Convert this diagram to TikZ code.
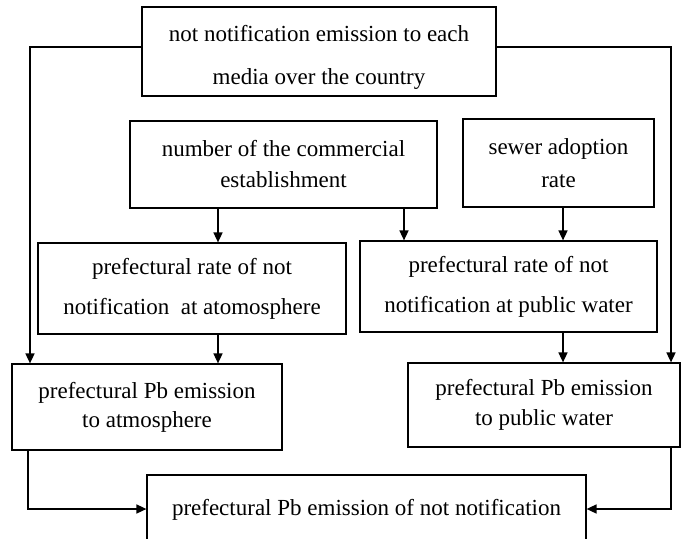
\documentclass[tikz,border=0pt]{standalone}
\usepackage{fontspec}
\setmainfont{Liberation Serif}
\usetikzlibrary{arrows.meta}
\tikzset{
  box/.style={draw, line width=1.2pt, rectangle, inner sep=0pt, align=center},
  txt/.style={inner sep=0pt, align=center},
  conn/.style={line width=1.6pt, -{Triangle[length=10pt,width=9pt]}},
}
\begin{document}
\begin{tikzpicture}[x=1pt,y=1pt]
\clip (0,0) rectangle (685,-538);
\fill[white] (0,0) rectangle (685,-538);
% boxes
\node[box, minimum width=354pt, minimum height=89pt] (top) at (319,-51.5) {};
\node[txt, font=\fontsize{23}{43}\selectfont] (toptxt) at (319,-57) {not notification emission to each\\media over the country};
\node[box, minimum width=307pt, minimum height=87pt, font=\fontsize{23}{31}\selectfont] (num) at (283.5,-164.5) {number of the commercial\\establishment};
\node[box, minimum width=191pt, minimum height=88pt, font=\fontsize{23}{33}\selectfont] (sew) at (558.5,-163) {sewer adoption\\rate};
\node[box, minimum width=308pt, minimum height=91pt, font=\fontsize{23}{40}\selectfont] (arate) at (192,-288.5) {prefectural rate of not\\notification~ at atomosphere};
\node[box, minimum width=297pt, minimum height=91pt, font=\fontsize{23}{40}\selectfont] (wrate) at (508.5,-286.5) {prefectural rate of not\\notification at public water};
\node[box, minimum width=270pt, minimum height=86pt, font=\fontsize{23}{29}\selectfont] (apb) at (147,-407) {prefectural Pb emission\\to atmosphere};
\node[box, minimum width=272pt, minimum height=84pt, font=\fontsize{23}{30}\selectfont] (wpb) at (544,-405) {prefectural Pb emission\\to public water};
\node[box, minimum width=439pt, minimum height=70pt, font=\fontsize{23}{30}\selectfont] (tot) at (366.5,-510) {prefectural Pb emission of not notification};
% corner coordinates
\coordinate (tl) at (30,-47);
\coordinate (tr) at (671,-47);
\coordinate (bl) at (28,-509);
\coordinate (br) at (671,-509);
\coordinate (n1) at (218,0);
\coordinate (n2) at (404,0);
\coordinate (s1) at (563,0);
% connectors
\draw[conn] (top.west |- tl) -- (tl) -- (tl |- apb.north);
\draw[conn] (top.east |- tr) -- (tr) -- (tr |- wpb.north);
\draw[conn] (n1 |- num.south) -- (n1 |- arate.north);
\draw[conn] (n2 |- num.south) -- (n2 |- wrate.north);
\draw[conn] (s1 |- sew.south) -- (s1 |- wrate.north);
\draw[conn] (n1 |- arate.south) -- (n1 |- apb.north);
\draw[conn] (s1 |- wrate.south) -- (s1 |- wpb.north);
\draw[conn] (bl |- apb.south) -- (bl) -- (tot.west |- bl);
\draw[conn] (br |- wpb.south) -- (br) -- (tot.east |- br);
\end{tikzpicture}
\end{document}
